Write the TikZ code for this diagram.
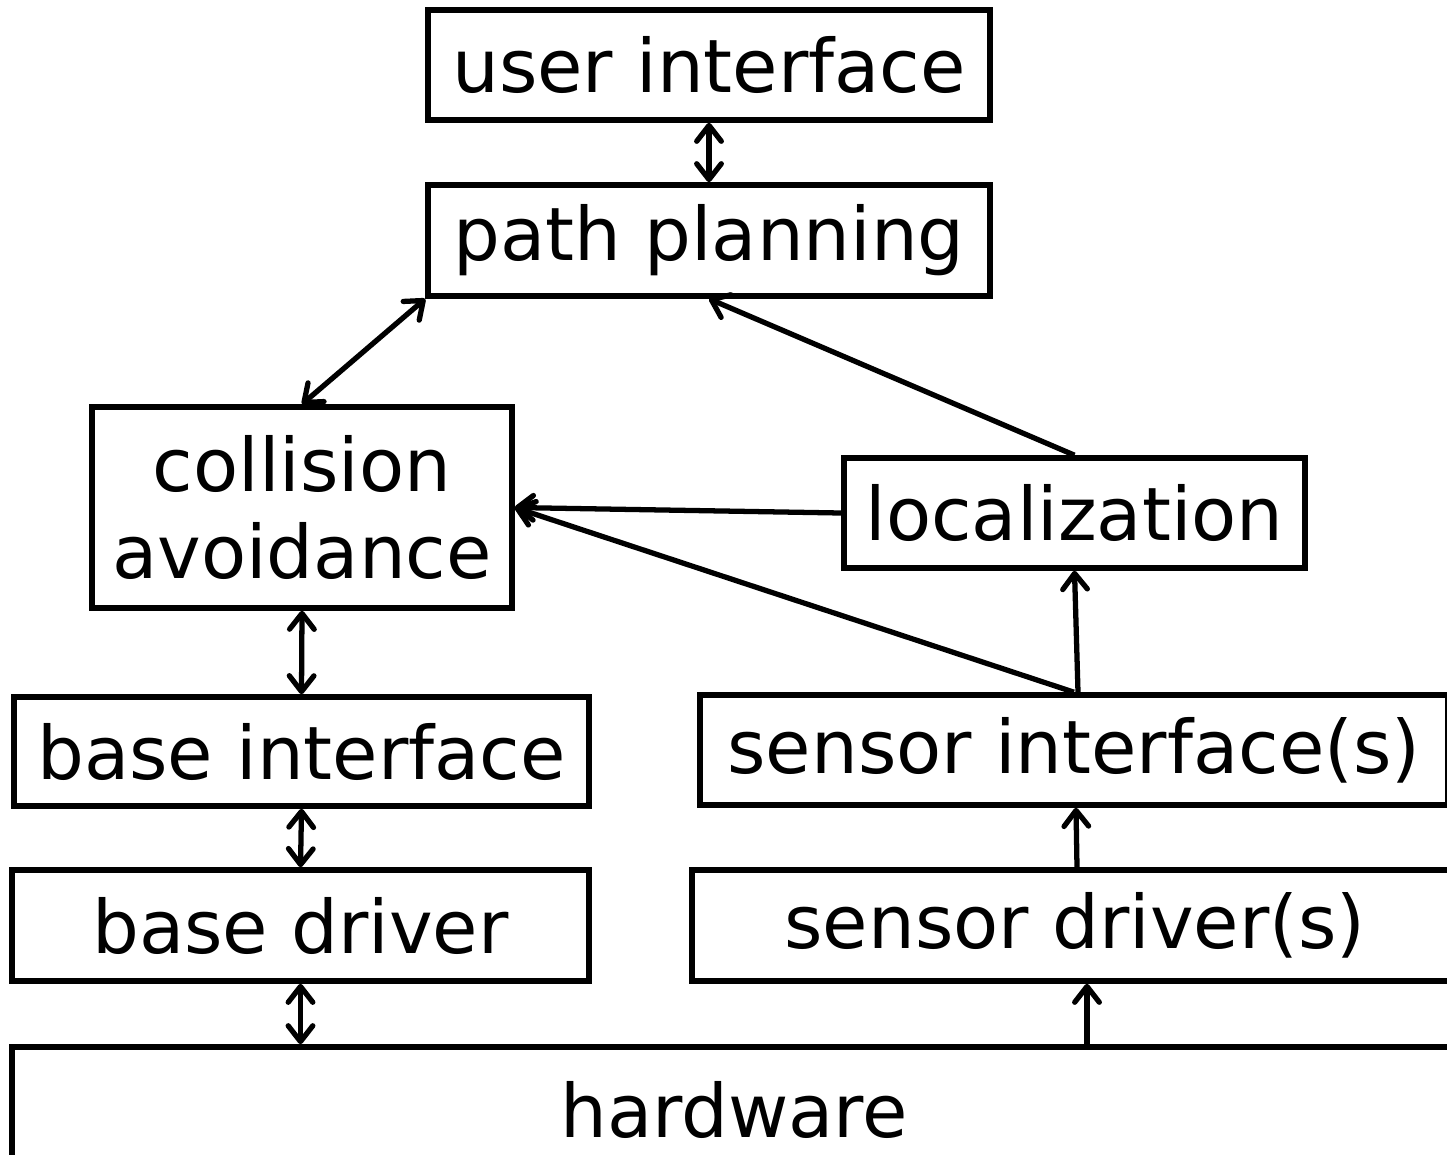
\documentclass[tikz,border=0pt]{standalone}
\usepackage{fontspec}
\setmainfont{DejaVu Sans}
\usetikzlibrary{positioning}
\usetikzlibrary{arrows.meta}
\tikzset{
    blocknode/.style = {rectangle, line width=3.2pt, draw=black, align=center, inner sep=0pt, font=\fontsize{42}{50}\selectfont, text=black},
    edgeb/.style = {-{Straight Barb[length=9pt,width=14pt,round]}, line width=3pt, black}, % one way
    edgebb/.style = {{Straight Barb[length=9pt,width=14pt,round]}-{Straight Barb[length=9pt,width=14pt,round]}, line width=3pt, black} % both ways
}
\begin{document}
\begin{tikzpicture}[x=0.02cm, y=-0.02cm]
  \clip (0,0) rectangle (1447,1154);
  % upper part
  \node[blocknode, minimum width=11.24cm, minimum height=2.2cm] (ui) at (709,65) {user interface};
  \node[blocknode, minimum width=11.24cm, minimum height=2.22cm] (pp) at (709,240.5) {path planning};
  \node[blocknode, minimum width=8.4cm, minimum height=4.02cm] (ca) at (302,507.5) {collision\\avoidance};
  \node[blocknode, minimum width=9.22cm, minimum height=2.2cm] (loc) at (1074.5,513) {localization};
  % interfaces and drivers
  \node[blocknode, minimum width=11.5cm, minimum height=2.18cm] (bi) at (301.5,751.5) {base interface};
  \node[blocknode, minimum width=14.96cm, minimum height=2.2cm] (si) at (1074,750) {sensor interface(s)};
  \node[blocknode, minimum width=11.54cm, minimum height=2.22cm] (bd) at (300.5,925.5) {base driver};
  \node[blocknode, minimum width=15.32cm, minimum height=2.22cm] (sd) at (1075,925.5) {sensor driver(s)};
  \node[blocknode, minimum width=28.88cm, minimum height=2.52cm] (hw) at (734,1110) {hardware};

  \draw[edgebb] (ui.south) -- (pp.north);
  \draw[edgebb] (pp.south west) -- (ca.north);
  \draw[edgeb] (loc.north) -- (pp.south);
  \draw[edgeb] (loc.west) -- (ca.east);
  \draw[edgeb] (si.north) -- (ca.east);
  \draw[edgeb] ([xshift=0.08cm]si.north) -- (loc.south);
  \draw[edgebb] (ca.south) -- (bi.north);
  \draw[edgebb] (bi.south) -- (bd.north);
  \draw[edgebb] (bd.south) -- (bd.south |- hw.north);
  \draw[edgeb] ([xshift=0.24cm]sd.south |- hw.north) -- ([xshift=0.24cm]sd.south);
  \draw[edgeb] ([xshift=0.04cm]sd.north) -- ([xshift=0.04cm]si.south);
\end{tikzpicture}
\end{document}
